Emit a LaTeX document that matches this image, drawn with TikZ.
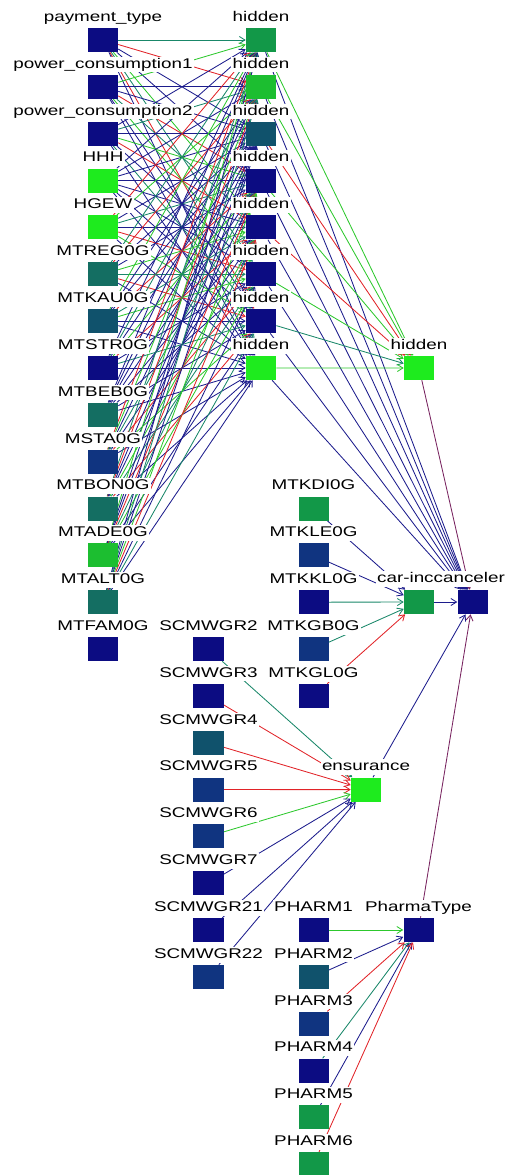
\documentclass[tikz,border=0pt]{standalone}
\usepackage{fontspec}
\setmainfont{Liberation Sans}[FakeStretch=1.34]
\usetikzlibrary{positioning,arrows.meta}
\pgfdeclarelayer{wires}
\pgfsetlayers{wires,main}
\definecolor{navyb}{RGB}{12,12,130}
\definecolor{blueb}{RGB}{16,52,128}
\definecolor{slateb}{RGB}{16,82,108}
\definecolor{tealb}{RGB}{20,110,98}
\definecolor{greenb}{RGB}{18,152,72}
\definecolor{limeb}{RGB}{28,190,48}
\definecolor{brightb}{RGB}{30,235,30}
\definecolor{navyw}{RGB}{28,28,140}
\definecolor{redw}{RGB}{225,35,40}
\definecolor{greenw}{RGB}{45,200,45}
\definecolor{tealw}{RGB}{25,135,105}
\definecolor{plumw}{RGB}{120,35,95}
\begin{document}
\begin{tikzpicture}[x=0.025cm,y=-0.025cm,
box/.style={rectangle,inner sep=0pt,minimum width=0.75cm,minimum height=0.6cm},
lbl/.style={fill=white,inner sep=1pt,text height=7.2pt,text depth=2pt},
wire/.style={line width=0.6pt,->,>={Straight Barb[length=4pt,width=5pt]}}]
\useasboundingbox (0,0) rectangle (505,1175);
% inputs
\foreach \t/\c [count=\k] in {payment\_type/navyb,power\_consumption1/navyb,power\_consumption2/navyb,HHH/brightb,HGEW/brightb,MTREG0G/tealb,MTKAU0G/slateb,MTSTR0G/navyb,MTBEB0G/tealb,MSTA0G/blueb,MTBON0G/tealb,MTADE0G/limeb,MTALT0G/tealb,MTFAM0G/navyb}
{
  \node[box,fill=\c] (i\k) at (103,{40+46.85*(\k-1)}) {};
  \node[lbl,above=1.3pt of i\k] (li\k) {\t};
}
% hidden layers
\foreach \c [count=\k] in {greenb,limeb,slateb,navyb,navyb,navyb,navyb,brightb}
{
  \node[box,fill=\c] (h\k) at (261,{40+46.85*(\k-1)}) {};
  \node[lbl,above=1.3pt of h\k] (lh\k) {hidden};
}
\node[box,fill=brightb] (h9) at (419,368) {};
\node[lbl,above=1.3pt of h9] (lh9) {hidden};
% outputs
\node[box,fill=greenb] (carinc) at (419,602) {};
\node[box,fill=navyb,right=0.575cm of carinc] (cancel) {};
\node[lbl] (lcar) at (441,579) {car-inccanceler};
\foreach \t/\c [count=\k] in {MTKDI0G/greenb,MTKLE0G/blueb,MTKKL0G/navyb,MTKGB0G/blueb,MTKGL0G/navyb}
{
  \node[box,fill=\c] (k\k) at (313.5,{508.5+46.85*(\k-1)}) {};
  \node[lbl,above=1.3pt of k\k] (lk\k) {\t};
}
\foreach \t/\c [count=\k] in {SCMWGR2/navyb,SCMWGR3/navyb,SCMWGR4/slateb,SCMWGR5/blueb,SCMWGR6/blueb,SCMWGR7/navyb,SCMWGR21/navyb,SCMWGR22/blueb}
{
  \node[box,fill=\c] (s\k) at (208.5,{649+46.85*(\k-1)}) {};
  \node[lbl,above=1.3pt of s\k] (ls\k) {\t};
}
\node[box,fill=brightb] (ens) at (366,789.6) {};
\node[lbl,above=1.3pt of ens] (lens) {ensurance};
\foreach \t/\c [count=\k] in {PHARM1/navyb,PHARM2/slateb,PHARM3/blueb,PHARM4/navyb,PHARM5/greenb,PHARM6/greenb}
{
  \node[box,fill=\c] (p\k) at (313.5,{930+46.85*(\k-1)}) {};
  \node[lbl,above=1.3pt of p\k] (lp\k) {\t};
}
\node[box,fill=navyb] (pharma) at (418.5,930) {};
\node[lbl,above=1.3pt of pharma] (lpharma) {PharmaType};
% arcs
\begin{pgfonlayer}{wires}
\foreach \i in {1,...,13}
  \foreach \j in {1,...,8}
  {
    \pgfmathtruncatemacro\n{mod(\i*\j+2*\i+\j,5)}
    \ifcase\n \def\wc{navyw}\or \def\wc{redw}\or \def\wc{greenw}\or \def\wc{navyw}\else \def\wc{tealw}\fi
    \draw[wire,draw=\wc] (i\i) -- (h\j);
  }
\foreach \j/\c in {1/greenw,2/greenw,3/redw,4/greenw,5/redw,6/greenw,7/tealw,8/greenw}
{
  \draw[wire,draw=\c] (h\j) -- (h9);
  \draw[wire,draw=navyw] (h\j) -- (cancel);
}
\draw[wire,draw=plumw] (h9) -- (cancel);
\foreach \k/\c in {1/navyw,2/navyw,3/tealw,4/tealw,5/redw}
  \draw[wire,draw=\c] (k\k) -- (carinc);
\draw[wire,draw=navyw] (carinc) -- (cancel);
\foreach \k/\c in {1/tealw,2/redw,3/redw,4/redw,5/greenw,6/navyw,7/navyw,8/navyw}
  \draw[wire,draw=\c] (s\k) -- (ens);
\draw[wire,draw=navyw] (ens) -- (cancel);
\foreach \k/\c in {1/greenw,2/navyw,3/redw,4/tealw,5/navyw,6/redw}
  \draw[wire,draw=\c] (p\k) -- (pharma);
\draw[wire,draw=plumw] (pharma) -- (cancel);
\end{pgfonlayer}
\end{tikzpicture}
\end{document}
